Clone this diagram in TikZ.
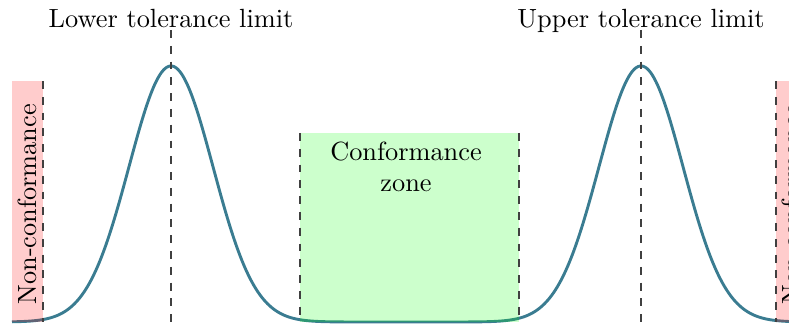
\documentclass[tikz,border=0pt]{standalone}
\usepackage{tikz}
\definecolor{curveteal}{RGB}{58,124,145}
\tikzset{
  limitline/.style={dashed, draw=black!75, line width=0.4pt},
  bellcurve/.style={draw=curveteal, line width=1.1pt},
  redzone/.style={fill=red, fill opacity=0.2, draw=none},
  greenzone/.style={fill=green, fill opacity=0.2, draw=none},
  lbl/.style={font=\normalsize, inner sep=0pt}
}
\begin{document}
\begin{tikzpicture}[x=0.38pt, y=0.38pt]
\useasboundingbox (0,0) rectangle (789,324);
% curve (two gaussians joined)
\draw[bellcurve] plot[domain=12:406, samples=220, smooth] (\x, {2+256*exp(-0.5*((\x-171)/42)^2)})
  -- plot[domain=406:800, samples=220, smooth] (\x, {2+256*exp(-0.5*((\x-641)/42)^2)});
% zones
\fill[redzone] (12,2) rectangle (43,243);
\fill[redzone] (776,2) rectangle (810,243);
\fill[greenzone] (300,2) rectangle (519,191);
% coordinates for limit lines
\coordinate (lt) at (171,294); \coordinate (lb) at (171,2);
\coordinate (ut) at (641,294); \coordinate (ub) at (641,2);
\coordinate (nl1) at (43,243); \coordinate (nl2) at (43,2);
\coordinate (nr1) at (776,243); \coordinate (nr2) at (776,2);
\coordinate (cl1) at (300,191); \coordinate (cl2) at (300,2);
\coordinate (cr1) at (519,191); \coordinate (cr2) at (519,2);
\draw[limitline] (lt) -- (lb);
\draw[limitline] (ut) -- (ub);
\draw[limitline] (nl1) -- (nl2);
\draw[limitline] (nr1) -- (nr2);
\draw[limitline] (cl1) -- (cl2);
\draw[limitline] (cr1) -- (cr2);
% labels
\node[lbl, anchor=base] (lowlab) at (171,296) {Lower tolerance limit};
\node[lbl, anchor=base] (uplab) at (641,296) {Upper tolerance limit};
\node[lbl, align=center] (conf) at (406,157) {Conformance\\zone};
\node[lbl, rotate=90, anchor=west] (ncl) at (27.5,19) {Non-conformance};
\node[lbl, rotate=90, anchor=west] (ncr) at (791.5,19) {Non-conformance};
\end{tikzpicture}
\end{document}
